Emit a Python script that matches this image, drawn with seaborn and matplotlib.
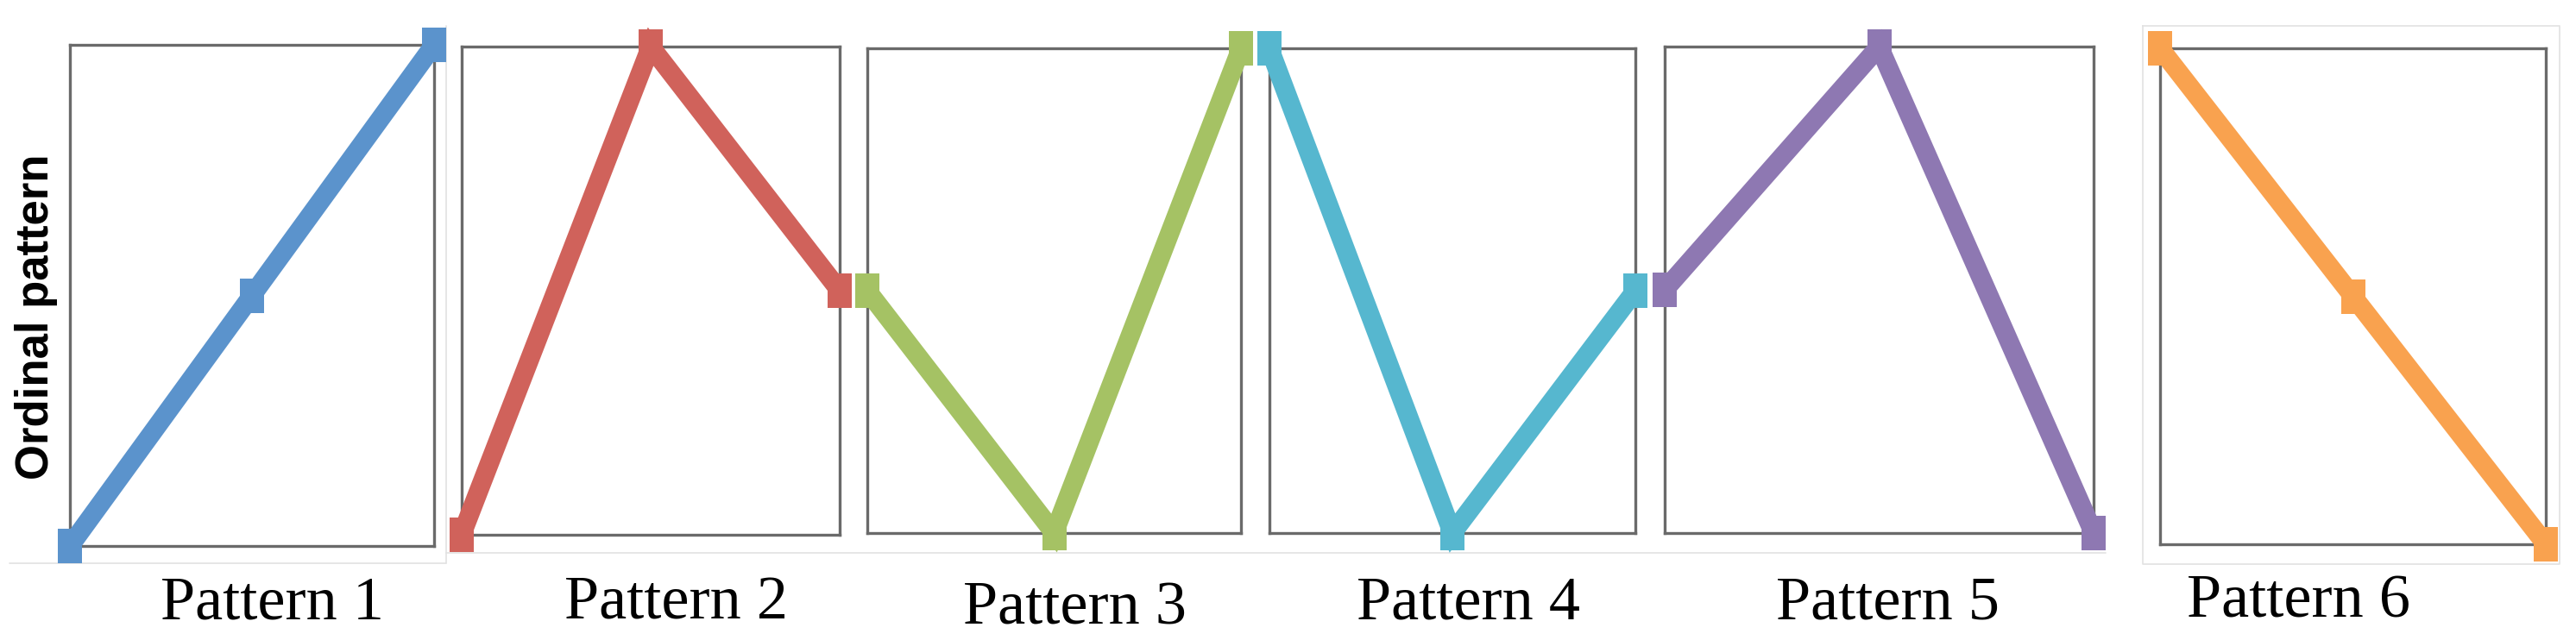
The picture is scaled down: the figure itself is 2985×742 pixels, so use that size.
import matplotlib
matplotlib.use("Agg")
import matplotlib.pyplot as plt
from matplotlib.lines import Line2D
import seaborn as sns
import pandas as pd

# ---- data ----
positions = [0, 1, 2]
pattern_names = ["Pattern 1", "Pattern 2", "Pattern 3", "Pattern 4", "Pattern 5", "Pattern 6"]
pattern1 = [0, 1, 2]
pattern2 = [0, 2, 1]
pattern3 = [1, 0, 2]
pattern4 = [2, 0, 1]
pattern5 = [1, 2, 0]
pattern6 = [2, 1, 0]
patterns = [pattern1, pattern2, pattern3, pattern4, pattern5, pattern6]
y_label = "Ordinal pattern"

# ---- style / layout ----
colors = ["#5B93CC", "#D0625B", "#A5C264", "#56B7CF", "#8E78B2", "#F9A24F"]
W, H = 2985, 742
DPI = 100
# panel boxes in pixels: left, right, top, bottom
boxes = [(81, 503, 52, 633), (535, 973, 54, 620), (1005, 1438, 56, 618),
         (1471, 1895, 56, 618), (1929, 2426, 54, 618), (2503, 2950, 56, 631)]
label_pos = [(315, 717), (784, 717), (1245, 724), (1702, 717), (2188, 717), (2664, 715)]
rect_marker = [(-0.34, -0.5), (0.34, -0.5), (0.34, 0.5), (-0.34, 0.5), (-0.34, -0.5)]

sns.set_theme(style="white")
plt.rcParams["font.family"] = ["Liberation Serif", "DejaVu Serif"]

fig = plt.figure(figsize=(W / DPI, H / DPI), dpi=DPI)
fig.patch.set_facecolor("white")

# faint chart-area borders
faint = "#e2e2e2"
def px_line(xs, ys):
    fig.add_artist(Line2D([x / W for x in xs], [1 - y / H for y in ys],
                          color=faint, linewidth=1.2, zorder=0))
px_line([11, 517], [653, 653])
px_line([517, 517], [30, 653])
px_line([517, 2440], [641, 641])
px_line([2483, 2966, 2966, 2483, 2483], [30, 30, 654, 654, 30])

for vals, name, col, (l, r, t, b), (lx, ly) in zip(patterns, pattern_names, colors, boxes, label_pos):
    ax = fig.add_axes([l / W, 1 - b / H, (r - l) / W, (b - t) / H])
    df = pd.DataFrame({"pos": positions, "rank": vals})
    sns.lineplot(data=df, x="pos", y="rank", ax=ax, color=col, linewidth=16,
                 marker=rect_marker, markersize=29, markeredgewidth=0, clip_on=False,
                 solid_joinstyle="miter", zorder=5)
    ax.set_xlim(min(positions), max(positions))
    ax.set_ylim(0, 2)
    ax.set_xticks([])
    ax.set_yticks([])
    ax.set_xlabel("")
    ax.set_ylabel("")
    ax.set_facecolor("white")
    for sp in ax.spines.values():
        sp.set_visible(True)
        sp.set_color("#6a6a6a")
        sp.set_linewidth(2.4)
    fig.text(lx / W, 1 - ly / H, name, ha="center", va="baseline",
             fontsize=52, family=["Liberation Serif", "DejaVu Serif"], color="black")

fig.text(42 / W, 1 - 367 / H, y_label, rotation=90, ha="center", va="center",
         fontsize=38, fontweight="bold", family=["Liberation Sans", "DejaVu Sans"], color="black")

fig.savefig("out.png", dpi=DPI, facecolor="white")
